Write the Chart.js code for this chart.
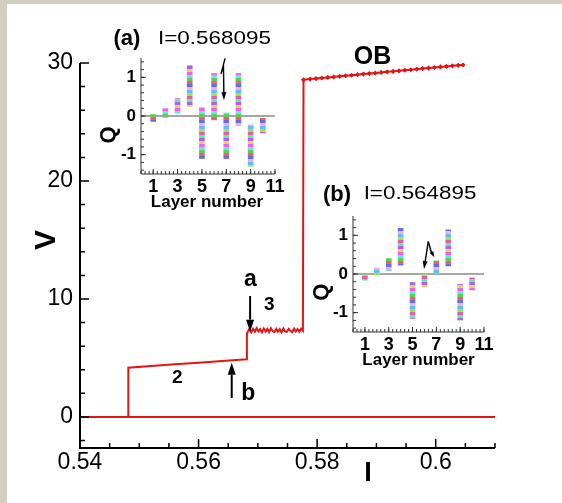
<!DOCTYPE html>
<html>
<head>
<meta charset="utf-8">
<script src="https://cdn.jsdelivr.net/npm/chart.js@4.4.1/dist/chart.umd.min.js"></script>
<style>
  html, body { margin: 0; padding: 0; background: #d4cebe; }
  #page { position: relative; width: 562px; height: 503px; overflow: hidden; }
  #panel { position: absolute; left: 7px; top: 4px; right: 0; bottom: 0; background: #fff; }
  canvas { position: absolute; left: 0; top: 0; }
  .inset { pointer-events: none; }
</style>
</head>
<body>
<div id="page">
  <div id="panel"></div>
  <canvas id="chart-main" width="562" height="503"></canvas>
  <canvas id="chart-inset-a" class="inset" width="562" height="503"></canvas>
  <canvas id="chart-inset-b" class="inset" width="562" height="503"></canvas>
</div>
<script>
const RED = '#e31414';
const FONT = "'Liberation Sans', Arial, Helvetica, sans-serif";

// main I-V curve
const ZERO_I = [0.5400, 0.6100];
const ZERO_V = [0, 0];

const UPPER_I = [0.54815, 0.54815, 0.5520, 0.5560, 0.5600, 0.5640, 0.56812, 0.56815, 0.5683,
  0.5686, 0.5689, 0.5692, 0.5695, 0.5698, 0.5701, 0.5704, 0.5707, 0.5710, 0.5713,
  0.5716, 0.5719, 0.5722, 0.5725, 0.5728, 0.5731, 0.5734, 0.5737, 0.5740, 0.5743,
  0.5746, 0.5749, 0.5752, 0.5755, 0.5758, 0.5761, 0.5764, 0.5767, 0.5770, 0.5773,
  0.5776, 0.5777];
const UPPER_V = [0, 4.18, 4.32, 4.46, 4.60, 4.74, 4.89, 7.03, 7.22,
  7.50, 7.18, 7.47, 7.22, 7.52, 7.25, 7.45, 7.17, 7.49, 7.24,
  7.46, 7.20, 7.51, 7.28, 7.19, 7.48, 7.23, 7.44, 7.18, 7.50,
  7.26, 7.21, 7.47, 7.30, 7.19, 7.49, 7.24, 7.45, 7.22, 7.48,
  7.30, 28.58];

const OB_I = [0.5777, 0.5788, 0.5798, 0.5808, 0.5818, 0.5828, 0.5838, 0.5848, 0.5858, 0.5868,
  0.5878, 0.5888, 0.5898, 0.5908, 0.5918, 0.5928, 0.5938, 0.5948, 0.5958, 0.5968,
  0.5978, 0.5988, 0.5998, 0.6008, 0.6018, 0.6028, 0.6038, 0.6046];
const OB_V = [28.58, 28.64, 28.68, 28.73, 28.78, 28.82, 28.87, 28.92, 28.96, 29.01,
  29.06, 29.10, 29.15, 29.20, 29.25, 29.29, 29.34, 29.39, 29.43, 29.48,
  29.53, 29.57, 29.62, 29.67, 29.71, 29.76, 29.80, 29.84];

const X_TICKS = [0.54, 0.56, 0.58, 0.60];
const X_TICK_LABELS = ['0.54', '0.56', '0.58', '0.6'];
const Y_TICKS = [0, 10, 20, 30];
const Y_TICK_LABELS = ['0', '10', '20', '30'];

// insets: Q range per layer
const LAYERS = [1, 2, 3, 4, 5, 6, 7, 8, 9, 10];
const QA_MIN = [-0.14, -0.03, 0.07, 0.25, -1.10, -0.10, -1.10, -0.25, -1.30, -0.44];
const QA_MAX = [0.04, 0.19, 0.45, 1.31, 0.22, 1.10, 0.08, 1.10, -0.23, -0.06];
const QB_MIN = [-0.16, -0.03, 0.09, 0.23, -1.15, -0.34, 0.02, 0.21, -1.19, -0.41];
const QB_MAX = [-0.02, 0.15, 0.40, 1.18, -0.22, -0.01, 0.34, 1.14, -0.27, -0.10];
const LAYER_TICKS = [1, 3, 5, 7, 9, 11];
const LAYER_TICK_LABELS = ['1', '3', '5', '7', '9', '11'];
const Q_TICKS = [-1, 0, 1];
const Q_TICK_LABELS = ['-1', '0', '1'];

const MARKER_COLORS = ['#f060f0', '#60e8e8', '#5ccc5c', '#f06060', '#6a6ae6', '#eab0ea',
  '#60bef2', '#a0e060', '#e060a8', '#60e8b4', '#b060e0', '#e8d060'];

function toPoints(xs, ys) {
  return xs.map((x, i) => ({ x, y: ys[i] }));
}

function drawText(ctx, item, x, y) {
  ctx.save();
  ctx.translate(x, y);
  if (item.rot) ctx.rotate(item.rot);
  if (item.sx) ctx.scale(item.sx, 1);
  ctx.font = `${item.font} ${FONT}`;
  ctx.fillStyle = '#000';
  ctx.textAlign = 'center';
  ctx.textBaseline = 'middle';
  ctx.fillText(item.t, 0, 0);
  ctx.restore();
}

function drawArrow(ctx, pts, head, width, lw) {
  ctx.save();
  ctx.strokeStyle = '#000';
  ctx.fillStyle = '#000';
  ctx.lineWidth = lw;
  const n = pts.length;
  const [tx, ty] = pts[n - 1];
  const [px, py] = pts[n - 2];
  const ang = Math.atan2(ty - py, tx - px);
  const bx = tx - Math.cos(ang) * head;
  const by = ty - Math.sin(ang) * head;
  ctx.beginPath();
  ctx.moveTo(pts[0][0], pts[0][1]);
  for (let i = 1; i < n - 1; i++) ctx.lineTo(pts[i][0], pts[i][1]);
  ctx.lineTo(bx, by);
  ctx.stroke();
  ctx.beginPath();
  ctx.moveTo(tx, ty);
  ctx.lineTo(bx + Math.sin(ang) * width / 2, by - Math.cos(ang) * width / 2);
  ctx.lineTo(bx - Math.sin(ang) * width / 2, by + Math.cos(ang) * width / 2);
  ctx.closePath();
  ctx.fill();
  ctx.restore();
}

const framePlugin = {
  id: 'frame',
  beforeDatasetsDraw(chart, args, o) {
    if (!o.zeroLine) return;
    const { ctx, chartArea: a, scales: { y } } = chart;
    const py = y.getPixelForValue(0);
    ctx.save();
    ctx.strokeStyle = '#8a8a8a';
    ctx.lineWidth = 1.3;
    ctx.beginPath();
    ctx.moveTo(a.left, py);
    ctx.lineTo(a.right, py);
    ctx.stroke();
    ctx.restore();
  },
  afterDatasetsDraw(chart, args, o) {
    const { ctx, chartArea: a, scales: { x, y } } = chart;
    ctx.save();
    ctx.strokeStyle = o.color;
    ctx.lineWidth = o.tickWidth;
    ctx.beginPath();
    for (let k = Math.ceil(x.min / o.xMinor - 1e-6); k * o.xMinor <= x.max + 1e-9; k++) {
      const px = x.getPixelForValue(k * o.xMinor);
      ctx.moveTo(px, a.bottom);
      ctx.lineTo(px, a.bottom - o.minorLen);
    }
    for (let k = Math.ceil(y.min / o.yMinor - 1e-6); k * o.yMinor <= y.max + 1e-9; k++) {
      const py = y.getPixelForValue(k * o.yMinor);
      ctx.moveTo(a.left, py);
      ctx.lineTo(a.left + o.minorLen, py);
    }
    o.xMajor.forEach((v) => {
      const px = x.getPixelForValue(v);
      ctx.moveTo(px, a.bottom);
      ctx.lineTo(px, a.bottom - o.majorLen);
    });
    o.yMajor.forEach((v) => {
      const py = y.getPixelForValue(v);
      ctx.moveTo(a.left, py);
      ctx.lineTo(a.left + o.majorLen, py);
    });
    ctx.stroke();

    ctx.lineWidth = o.axisWidth;
    ctx.beginPath();
    ctx.moveTo(a.left, a.top);
    ctx.lineTo(a.left, a.bottom);
    ctx.lineTo(a.right, a.bottom);
    ctx.stroke();

    ctx.fillStyle = '#000';
    ctx.textBaseline = 'middle';
    ctx.textAlign = 'center';
    ctx.font = `${o.xTickFont || o.tickFont} ${FONT}`;
    o.xMajor.forEach((v, i) => ctx.fillText(o.xLabels[i], x.getPixelForValue(v), a.bottom + o.xLabelDy));
    ctx.textAlign = 'right';
    ctx.font = `${o.tickFont} ${FONT}`;
    o.yMajor.forEach((v, i) => ctx.fillText(o.yLabels[i], a.left - o.yLabelDx, y.getPixelForValue(v)));
    ctx.restore();

    const { texts = [], arrows = [] } = o;
    texts.forEach((t) => drawText(ctx, t, x.getPixelForValue(t.x), y.getPixelForValue(t.y)));
    arrows.forEach((ar) => {
      const pts = ar.path.map(([vx, vy]) => [x.getPixelForValue(vx), y.getPixelForValue(vy)]);
      drawArrow(ctx, pts, ar.head, ar.width, ar.lw);
    });
  }
};

function markerPattern(ctx) {
  const c = document.createElement('canvas');
  c.width = 5;
  c.height = MARKER_COLORS.length * 3;
  const g = c.getContext('2d');
  MARKER_COLORS.forEach((col, i) => {
    g.fillStyle = col;
    g.fillRect(0, i * 3, 5, 3);
  });
  return ctx.createPattern(c, 'repeat');
}

const baseOptions = (padding) => ({
  responsive: false,
  animation: false,
  devicePixelRatio: 1,
  events: [],
  layout: { padding },
  plugins: { legend: { display: false }, tooltip: { enabled: false } }
});

// main chart
const mainOpts = baseOptions({ left: 80, top: 63, right: 67, bottom: 55 });
mainOpts.scales = {
  x: { type: 'linear', min: 0.54, max: 0.61, display: false },
  y: { type: 'linear', min: -2.63, max: 30, display: false }
};
mainOpts.plugins.frame = {
  color: '#000', axisWidth: 2, tickWidth: 1.5, majorLen: 9, minorLen: 5,
  xMajor: X_TICKS, xLabels: X_TICK_LABELS, xMinor: 0.005,
  yMajor: Y_TICKS, yLabels: Y_TICK_LABELS, yMinor: 2,
  tickFont: '23px', xLabelDy: 15, yLabelDx: 7,
  texts: [
    { t: 'OB', x: 0.58934, y: 30.5, font: 'bold 25px' },
    { t: 'a', x: 0.56873, y: 11.6, font: 'bold 23px' },
    { t: '3', x: 0.57193, y: 9.49, font: 'bold 19px' },
    { t: 'b', x: 0.56839, y: 2.0, font: 'bold 23px' },
    { t: '2', x: 0.55643, y: 3.3, font: 'bold 19px' },
    { t: 'V', x: 0.53443, y: 15.0, font: 'bold 30px', rot: -Math.PI / 2 },
    { t: 'I', x: 0.58858, y: -4.83, font: 'bold 27px' }
  ],
  arrows: [
    { path: [[0.56869, 10.25], [0.56869, 7.23]], head: 12, width: 8, lw: 2 },
    { path: [[0.56559, 1.61], [0.56559, 4.6]], head: 12, width: 8, lw: 2 }
  ]
};

new Chart(document.getElementById('chart-main'), {
  type: 'scatter',
  data: {
    datasets: [
      { data: toPoints(ZERO_I, ZERO_V), showLine: true, borderColor: RED, borderWidth: 2, pointRadius: 0 },
      { data: toPoints(UPPER_I, UPPER_V), showLine: true, borderColor: RED, borderWidth: 2, pointRadius: 0 },
      {
        data: toPoints(OB_I, OB_V), showLine: true, borderColor: RED, borderWidth: 2,
        pointStyle: 'rectRot', pointRadius: 2.6, pointBackgroundColor: RED, pointBorderWidth: 0
      }
    ]
  },
  options: mainOpts,
  plugins: [framePlugin]
});

// insets
function makeInset(id, padding, qMin, qMax, texts, arrows) {
  const canvas = document.getElementById(id);
  const opts = baseOptions(padding);
  opts.scales = {
    x: { type: 'linear', min: 0, max: 11, offset: false, display: false },
    y: { type: 'linear', min: -1.5, max: 1.5, display: false }
  };
  opts.plugins.frame = {
    color: '#333', axisWidth: 1, tickWidth: 1, majorLen: 5, minorLen: 3,
    xMajor: LAYER_TICKS, xLabels: LAYER_TICK_LABELS, xMinor: 1 / 3,
    yMajor: Q_TICKS, yLabels: Q_TICK_LABELS, yMinor: 0.2,
    tickFont: 'bold 17px', xTickFont: 'bold 18px', xLabelDy: 13, yLabelDx: 5,
    zeroLine: true, texts, arrows
  };
  return new Chart(canvas, {
    type: 'bar',
    data: {
      datasets: [{
        data: LAYERS.map((l, i) => ({ x: l, y: [qMin[i], qMax[i]] })),
        backgroundColor: markerPattern(canvas.getContext('2d')),
        borderWidth: 0,
        barThickness: 5
      }]
    },
    options: opts,
    plugins: [framePlugin]
  });
}

makeInset('chart-inset-a', { left: 141, top: 58, right: 287, bottom: 329 }, QA_MIN, QA_MAX, [
  { t: '(a)', x: -1.15, y: 1.99, font: 'bold 22px' },
  { t: 'I=0.568095', x: 6.03, y: 1.99, font: '19px', sx: 1.18 },
  { t: 'Layer number', x: 5.42, y: -2.22, font: 'bold 17px' },
  { t: 'Q', x: -2.63, y: -0.49, font: 'bold 22px', rot: -Math.PI / 2 }
], [
  { path: [[6.90, 1.49], [6.57, 1.09], [6.77, 1.29], [6.81, 0.41]], head: 8, width: 5, lw: 1.4 }
]);

makeInset('chart-inset-b', { left: 353, top: 216, right: 78, bottom: 171 }, QB_MIN, QB_MAX, [
  { t: '(b)', x: -1.34, y: 2.04, font: 'bold 22px' },
  { t: 'I=0.564895', x: 5.63, y: 2.07, font: '19px', sx: 1.18 },
  { t: 'Layer number', x: 5.5, y: -2.22, font: 'bold 17px' },
  { t: 'Q', x: -2.6, y: -0.47, font: 'bold 22px', rot: -Math.PI / 2 }
], [
  { path: [[6.32, 0.84], [5.96, 0.13]], head: 8, width: 5, lw: 1.4 },
  { path: [[6.32, 0.84], [6.61, 0.53], [6.47, 0.64], [6.83, 0.43]], head: 6, width: 4, lw: 1.4 }
]);
</script>
</body>
</html>
